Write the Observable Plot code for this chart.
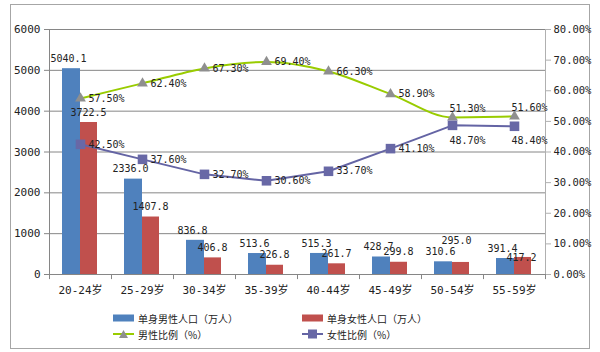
<!DOCTYPE html>
<html><head><meta charset="utf-8">
<script src="https://cdn.jsdelivr.net/npm/d3@7"></script>
<script src="https://cdn.jsdelivr.net/npm/@observablehq/plot@0.6"></script>
<style>
body{margin:0;background:#fff;font-family:"DejaVu Sans Mono","Noto Sans CJK SC",monospace;}
#wrap{position:relative;width:600px;height:352px;overflow:hidden;}
#frame{position:absolute;left:10px;top:4px;width:580px;height:345px;border:1px solid #a6a6a6;box-sizing:border-box;}
#chart{position:absolute;left:0;top:0;}
.leg{position:absolute;font-family:"Noto Sans CJK SC",sans-serif;font-size:10px;color:#222;display:flex;align-items:center;height:14px;white-space:nowrap;}
.leg svg{margin-right:4px;}
</style></head>
<body><div id="wrap"><div id="frame"></div><div id="chart"></div>
<div class="leg" style="left:113px;top:311px"><svg width="21" height="8"><rect x="0" y="0.5" width="21" height="7" fill="#4f81bd"/></svg>单身男性人口（万人）</div>
<div class="leg" style="left:302px;top:311px"><svg width="21" height="8"><rect x="0" y="0.5" width="21" height="7" fill="#c0504d"/></svg>单身女性人口（万人）</div>
<div class="leg" style="left:113px;top:327px"><svg width="21" height="10"><line x1="0" x2="21" y1="5" y2="5" stroke="#99cc00" stroke-width="2"/><path d="M10.5,1 L15,9 L6,9 Z" fill="#8f8f8f"/></svg>男性比例（%）</div>
<div class="leg" style="left:302px;top:327px"><svg width="21" height="10"><line x1="0" x2="21" y1="5" y2="5" stroke="#6464a4" stroke-width="2"/><rect x="6" y="0.5" width="9" height="9" fill="#6868a6"/></svg>女性比例（%）</div>
</div>
<script>
const categories = ["20-24岁","25-29岁","30-34岁","35-39岁","40-44岁","45-49岁","50-54岁","55-59岁"];
const malePop = [5040.1, 2336.0, 836.8, 513.6, 515.3, 428.7, 310.6, 391.4];
const femalePop = [3722.5, 1407.8, 406.8, 226.8, 261.7, 299.8, 295.0, 417.2];
const maleRatio = [57.5, 62.4, 67.3, 69.4, 66.3, 58.9, 51.3, 51.6];
const femaleRatio = [42.5, 37.6, 32.7, 30.6, 33.7, 41.1, 48.7, 48.4];
const leftTicks = [0, 1000, 2000, 3000, 4000, 5000, 6000];
const rightTicks = [0, 10, 20, 30, 40, 50, 60, 70, 80];

const k = 6000 / 80;
const rows = categories.map((c, i) => ({c, i, m: malePop[i], f: femalePop[i], mr: maleRatio[i], fr: femaleRatio[i]}));
const grid = "#868686";
const fs = 10;

const chart = Plot.plot({
  width: 600, height: 300,
  marginLeft: 49, marginRight: 55, marginTop: 29, marginBottom: 26,
  style: {fontFamily: '"DejaVu Sans Mono","Noto Sans CJK SC",monospace', fontSize: "11px", color: "#222", background: "transparent", overflow: "visible"},
  x: {type: "band", domain: categories, padding: 0, axis: null, label: null},
  y: {domain: [0, 6000], axis: null, label: null},
  marks: [
    Plot.ruleY(leftTicks, {stroke: grid, strokeWidth: 1}),
    Plot.ruleX([categories[0]], {x: d => d, dx: -31, y1: 0, y2: 6000, stroke: grid}),
    Plot.ruleX([categories[7]], {x: d => d, dx: 31, y1: 0, y2: 6000, stroke: "#b0b0b0"}),
    Plot.ruleX(categories, {x: d => d, dx: -31, y1: 0, y2: -125, stroke: grid}),
    Plot.ruleX([categories[7]], {x: d => d, dx: 31, y1: 0, y2: -125, stroke: grid}),
    Plot.axisY({anchor: "left", ticks: leftTicks, tickSize: 5, tickPadding: 4, stroke: grid, label: null, tickFormat: d => String(d), fontSize: 11}),
    Plot.axisY({anchor: "right", ticks: rightTicks.map(d => d * k), tickSize: 5, tickPadding: 3, stroke: "#b0b0b0", label: null, tickFormat: d => (d / k).toFixed(2) + "%", fontSize: 10.5}),
    Plot.axisX({anchor: "bottom", tickSize: 0, tickPadding: 12, label: null, fontSize: 11}),
    Plot.barY(rows, {x: "c", y: "m", fill: "#4f81bd", insetLeft: 13, insetRight: 31}),
    Plot.barY(rows, {x: "c", y: "f", fill: "#c0504d", insetLeft: 31, insetRight: 14}),
    Plot.line(rows, {x: "c", y: d => d.mr * k, stroke: "#99cc00", strokeWidth: 2, curve: "monotone-x"}),
    Plot.dot(rows, {x: "c", y: d => d.mr * k, symbol: "triangle", r: 4, fill: "#8f8f8f"}),
    Plot.line(rows, {x: "c", y: d => d.fr * k, stroke: "#6464a4", strokeWidth: 2}),
    Plot.dot(rows, {x: "c", y: d => d.fr * k, symbol: "square", r: 5.4, fill: "#6868a6"}),
    // bar labels
    Plot.text(rows, {x: "c", y: "m", text: d => d.m.toFixed(1), dx: -12, dy: -10, fontSize: fs, fill: "#222"}),
    Plot.text(rows, {filter: d => d.i < 6, x: "c", y: "f", text: d => d.f.toFixed(1), dx: 8, dy: -10, fontSize: fs, fill: "#222"}),
    Plot.text(rows, {filter: d => d.i === 6, x: "c", y: "f", text: d => d.f.toFixed(1), dx: 4, dy: -22, fontSize: fs, fill: "#222"}),
    Plot.text(rows, {filter: d => d.i === 7, x: "c", y: "f", text: d => d.f.toFixed(1), dx: 7, dy: 0, fontSize: fs, fill: "#222"}),
    // ratio labels
    Plot.text(rows, {filter: d => d.i < 6, x: "c", y: d => d.mr * k, text: d => d.mr.toFixed(2) + "%", textAnchor: "start", dx: 8, fontSize: fs, fill: "#222"}),
    Plot.text(rows, {filter: d => d.i >= 6, x: "c", y: d => d.mr * k, text: d => d.mr.toFixed(2) + "%", textAnchor: "start", dx: -3, dy: -9, fontSize: fs, fill: "#222"}),
    Plot.text(rows, {filter: d => d.i < 6, x: "c", y: d => d.fr * k, text: d => d.fr.toFixed(2) + "%", textAnchor: "start", dx: 8, fontSize: fs, fill: "#222"}),
    Plot.text(rows, {filter: d => d.i >= 6, x: "c", y: d => d.fr * k, text: d => d.fr.toFixed(2) + "%", textAnchor: "start", dx: -3, dy: 15, fontSize: fs, fill: "#222"})
  ]
});
document.getElementById("chart").appendChild(chart);
</script>
</body></html>
